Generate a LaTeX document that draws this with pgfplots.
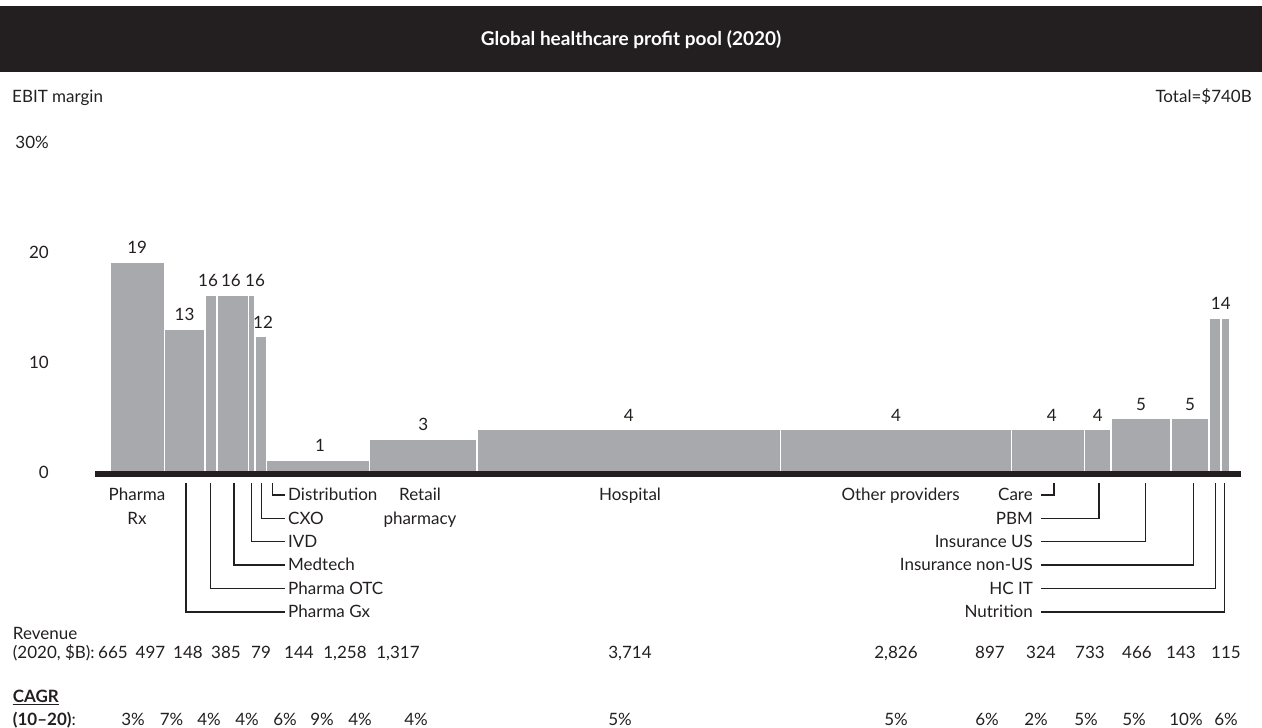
\documentclass[border=0pt]{standalone}
\usepackage{fontspec}
\setmainfont{Lato}
\usepackage{pgfplots}
\pgfplotsset{compat=1.18}
\usepackage{pgfplotstable}
\definecolor{ink}{HTML}{231F20}
\definecolor{barc}{HTML}{A7A9AC}

% bar left edges (cumulative revenue, $B) and EBIT margin (%)
\pgfplotstableread{
x h
0 19.09
665 13.0
1162 16.06
1310 16.06
1695 16.06
1774 12.3
1918 1.09
3176 3.0
4493 3.85
8207 3.85
11033 3.85
11930 3.85
12254 4.85
12987 4.85
13453 14.0
13596 14.0
13711 14.0
}\bars

\pgfplotstableread{
x h lab
332 19.09 19
913 13.0 13
1200 16.06 16
1481 16.06 16
1775 16.06 16
1873 12.3 12
2570 1.09 1
3834 3.0 3
6350 3.85 4
9620 3.85 4
11526 3.85 4
12092 3.85 4
12620 4.85 5
13220 4.85 5
13596 14.0 14
}\labs

\begin{document}
\fontsize{17}{20}\selectfont
\begin{tikzpicture}[x=1pt,y=1pt,color=ink]
\useasboundingbox (0,0) rectangle (1262,728);
\fill[ink] (0,656) rectangle (1262,722);
\node[white, font=\fontsize{19}{22}\selectfont\bfseries, anchor=base, inner sep=0pt] at (631,682) {Global healthcare profit pool (2020)};
\node[anchor=base west, inner sep=0pt] at (12,625) {EBIT margin};
\node[anchor=base east, inner sep=0pt] at (1252,625) {Total=\$740B};

\begin{axis}[at={(110pt,256pt)}, anchor=origin,
  scale only axis, width=1120.2pt, height=330pt,
  xmin=0, xmax=13711, ymin=0, ymax=30,
  axis line style={draw=none}, major tick length=0pt,
  xtick=\empty, ytick={0,10,20,30}, yticklabels={0,10,20,30\%},
  yticklabel style={anchor=east, inner sep=0pt, xshift=-61pt, text=ink},
  clip=false]
\addplot[ybar interval, fill=barc, draw=white, line width=1.5pt] table[x=x,y=h] {\bars};
\addplot[draw=none, mark=none, nodes near coords, point meta=explicit symbolic,
  nodes near coords style={anchor=base, inner sep=0pt, yshift=8.5pt, text=ink}]
  table[x=x,y=h,meta=lab] {\labs};
\end{axis}

\draw[ink, line width=6pt] (95,254) -- (1241,254);

% leader lines
\begin{scope}[line width=1.1pt, ink]
\draw (272.7,245) -- (272.7,233) -- (285,233);
\draw (261.7,245) -- (261.7,209.5) -- (285,209.5);
\draw (251.7,245) -- (251.7,186.5) -- (285,186.5);
\draw (234,245) -- (234,163) -- (285,163);
\draw (210.7,245) -- (210.7,139.5) -- (285,139.5);
\draw (186,245) -- (186,116) -- (285,116);
\draw (1054,245) -- (1054,233) -- (1041,233);
\draw (1099,245) -- (1099,209.5) -- (1041,209.5);
\draw (1145.7,245) -- (1145.7,186.5) -- (1041,186.5);
\draw (1193.3,245) -- (1193.3,163) -- (1041,163);
\draw (1215.7,245) -- (1215.7,139.5) -- (1041,139.5);
\draw (1224.3,245) -- (1224.3,116) -- (1041,116);
\end{scope}
\begin{scope}[every node/.style={inner sep=0pt}]
\node[anchor=base west] at (288,227) {Distribution};
\node[anchor=base west] at (288,203.5) {CXO};
\node[anchor=base west] at (288,180.5) {IVD};
\node[anchor=base west] at (288,157) {Medtech};
\node[anchor=base west] at (288,133.5) {Pharma OTC};
\node[anchor=base west] at (288,110) {Pharma Gx};
\node[anchor=base east] at (1033,227) {Care};
\node[anchor=base east] at (1033,203.5) {PBM};
\node[anchor=base east] at (1033,180.5) {Insurance US};
\node[anchor=base east] at (1033,157) {Insurance non-US};
\node[anchor=base east] at (1033,133.5) {HC IT};
\node[anchor=base east] at (1033,110) {Nutrition};
\node[anchor=base] at (137,227) {Pharma};
\node[anchor=base] at (137,203.5) {Rx};
\node[anchor=base] at (420,227) {Retail};
\node[anchor=base] at (420,203.5) {pharmacy};
\node[anchor=base] at (630,227) {Hospital};
\node[anchor=base east] at (960,227) {Other providers};

\node[anchor=base west] at (12.7,88) {Revenue};
\node[anchor=base west] at (12.7,69) {(2020, \$B):};
\node[anchor=base west] at (12.7,25) {\underline{\textbf{CAGR}}};
\node[anchor=base west] at (12.7,2) {\textbf{(10–20)}:};
\foreach \x/\t in {113/665, 150.5/497, 188/148, 226/385, 261/79, 299/144, 345/{1,258}, 398/{1,317}, 630/{3,714}, 896/{2,826}, 990/897, 1041/324, 1090/733, 1137/466, 1181/143, 1226/115}
  \node[anchor=base] at (\x,69) {\t};
\foreach \x/\t in {133/3, 171.5/7, 209/4, 247/4, 285/6, 322/9, 360/4, 416/4, 620/5, 896/5, 987/6, 1036/2, 1086/5, 1134/5, 1186/10, 1226/6}
  \node[anchor=base] at (\x,2) {\t\%};
\end{scope}
\end{tikzpicture}
\end{document}
